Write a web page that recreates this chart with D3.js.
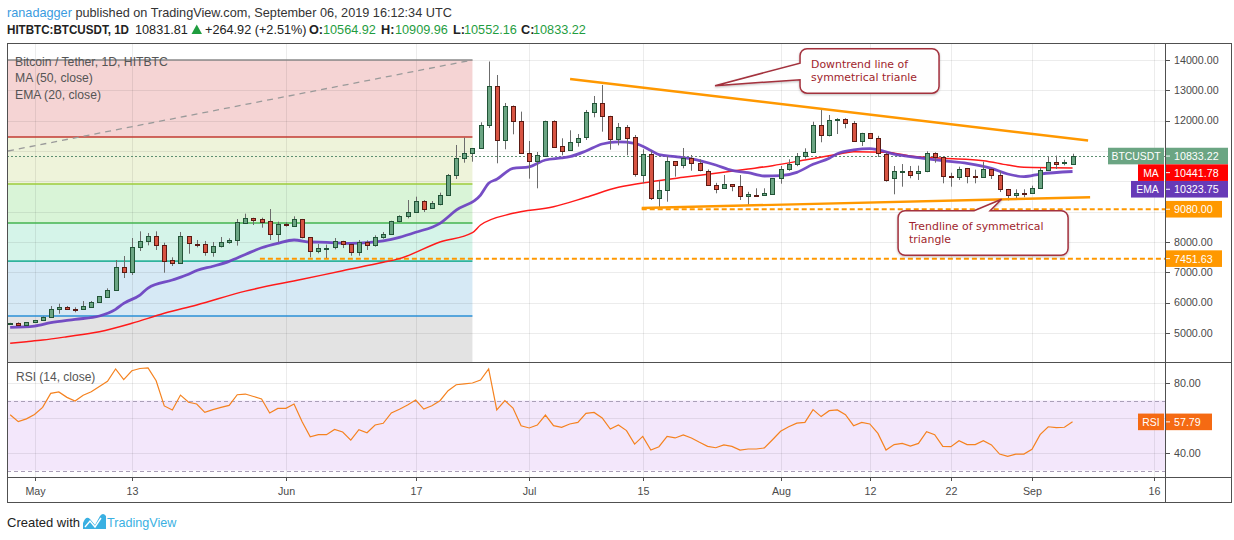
<!DOCTYPE html>
<html><head><meta charset="utf-8">
<script src="https://cdn.jsdelivr.net/npm/d3@7"></script>
<style>
body{margin:0;background:#fff}
svg{display:block;font-family:"Liberation Sans",Arial,sans-serif}
</style>
</head><body>
<svg id="c" width="1234" height="540"></svg>
<script>
// ---------------- DATA ----------------
const firstDate = "2019-04-28";
const open = [5310,5320,5253,5352,5418,5517,5780,5856,5795,5780,5868,6012,6200,6407,7165,6989,7824,8010,8187,7890,7406,7297,8187,7944,
7924,7660,7846,7990,8044,8637,8791,8758,8692,8274,8593,8538,8747,8154,7714,7770,7813,8022,7934,7660,7999,7890,8155,
8253,8682,8846,8978,9351,9098,9263,9527,10186,10758,10923,11078,11836,13133,11353,12473,11979,10923,10660,10846,11989,
11155,11023,11287,11451,12276,12572,12144,11372,11781,11451,10220,10901,9450,9703,10660,10517,10758,10594,10350,9889,9770,9902,9836,
9494,9560,9530,9593,10100,10396,10560,10835,10957,11847,11517,12012,12045,11913,11307,11583,11418,10911,10100,10320,10350,
10264,10320,10923,10792,10166,10132,10429,10166,10153,10406,10208,9737,9540,9616,9606,9770,10350,10650,10594,10564.92];
const high = [5335,5352,5360,5430,5545,5890,5966,5890,5847,6054,6055,6220,6473,7406,7538,8131,8352,8297,8352,7977,7495,8330,8190,8066,
8033,8000,8165,8121,8758,8934,8800,8802,9087,8670,8649,8846,8760,8160,7934,7913,8131,8040,7940,8066,8055,8220,8330,
8700,8880,9384,9494,9380,9351,9626,10242,11198,11440,11100,11946,13950,13505,12583,12500,12298,11330,10967,12000,12010,
11418,11682,11560,12352,12813,13176,12160,11923,11857,11527,11056,11010,10021,10835,10670,11099,10868,10726,10390,9950,10208,9910,10208,
9655,9770,9770,10110,10506,10726,10934,11088,11966,12352,12187,12080,12080,11990,11600,11590,11500,10950,10505,10570,10505,
10517,10990,10957,10800,10284,10483,10440,10385,10647,10420,10340,9750,9737,9737,9857,10450,10813,10846,10713,10909.96];
const low = [5295,5240,5245,5340,5410,5510,5636,5760,5682,5775,5850,6005,6190,6400,6813,6912,7703,7890,7736,6988,7209,7290,7614,7824,
7548,7515,7820,7944,7880,8620,8560,8472,8066,8000,8505,8520,8120,7495,7627,7472,7758,7800,7548,7548,7736,7846,8110,
8240,8650,8780,8970,8989,9090,9209,9520,10077,10614,10647,11070,11758,10594,11056,11550,10900,10087,9770,10840,11130,
10858,11010,11142,11362,12110,11637,11043,11187,10858,10153,9935,9384,9130,9328,10153,10429,10350,10330,9880,9605,9760,9673,9384,
9190,9530,9520,9580,9922,10350,10500,10747,10950,11287,11480,11560,11748,11300,11165,11410,10802,9988,9572,9823,10100,
10044,10300,10614,9935,9823,10044,9935,9935,10140,10077,9648,9374,9440,9474,9590,9760,10340,10406,10527,10552.16];
const close = [5320,5253,5352,5418,5530,5790,5856,5780,5785,5890,6022,6209,6417,7165,6989,7824,8022,8187,7878,7350,7297,8187,7956,7930,
7660,7868,7990,8055,8648,8791,8725,8670,8274,8593,8550,8758,8140,7703,7802,7813,8022,7924,7660,7990,7890,8165,8264,
8682,8857,8978,9351,9098,9274,9549,10198,10758,10923,11089,11847,13133,11353,12473,11979,10923,10660,10858,11989,11142,
10990,11287,11419,12276,12572,12144,11372,11781,11418,10220,10901,9450,9714,10660,10517,10758,10594,10350,9889,9770,9902,9836,9494,
9573,9530,9606,10110,10396,10571,10835,10957,11847,11517,12012,12045,11913,11307,11583,11418,10911,10066,10330,10350,10230,
10330,10923,10792,10153,10132,10406,10153,10153,10406,10198,9737,9540,9616,9606,9780,10373,10627,10594,10627,10833.22];
const rsi = [61.9,57.9,59.5,62.0,66.1,74.1,74.9,71.8,69.7,73.0,75.0,78.0,81.0,88.0,81.9,87.0,88.3,88.6,81.3,66.9,64.6,73.1,69.0,68.0,
63.2,64.8,66.1,67.2,73.3,73.7,72.3,70.9,62.9,65.5,65.5,68.0,57.9,49.3,50.5,50.5,53.5,52.0,47.4,53.3,51.6,56.0,57.0,
62.9,65.0,67.4,70.3,65.1,67.0,69.9,75.6,79.0,79.5,80.0,81.7,88.0,64.6,69.9,65.7,55.6,54.3,56.0,61.7,55.6,
54.7,56.6,57.5,62.7,63.2,60.0,53.7,56.0,52.8,45.1,49.5,41.7,43.6,49.5,48.6,50.3,48.6,46.1,43.8,43.0,44.6,43.8,41.7,
42.3,42.3,42.9,47.6,52.4,55.0,57.1,57.5,64.8,60.8,64.2,64.6,61.9,55.6,57.5,56.6,51.2,41.7,44.8,45.5,44.0,
45.5,52.2,50.5,43.8,43.6,47.0,44.8,44.8,47.0,44.6,39.4,38.1,39.4,39.4,42.1,50.5,55.0,54.5,54.7,57.79];
const maPoints = [["2019-04-28",4660],["2019-04-30",4713],["2019-05-02",4768],["2019-05-05",4877],["2019-05-09",5042],
["2019-05-13",5319],["2019-05-17",5648],["2019-05-21",5923],["2019-05-27",6380],["2019-06-03",6769],["2019-06-08",7053],
["2019-06-13",7330],["2019-06-15",7451],["2019-06-20",8000],["2019-06-24",8306],["2019-06-25",8560],["2019-06-29",8945],
["2019-07-04",9160],["2019-07-08",9473],["2019-07-12",9803],["2019-07-16",9988],["2019-07-20",10132],["2019-07-24",10264],
["2019-07-28",10406],["2019-07-31",10517],["2019-08-04",10703],["2019-08-08",10890],["2019-08-10",10977],["2019-08-14",10957],
["2019-08-17",10835],["2019-08-21",10758],["2019-08-26",10680],["2019-08-29",10538],["2019-08-31",10462],["2019-09-06",10441.78]];
const emaPoints = [["2019-04-28",5187],["2019-05-01",5230],["2019-05-03",5340],["2019-05-06",5450],["2019-05-09",5560],
["2019-05-11",5780],["2019-05-12",5978],["2019-05-14",6250],["2019-05-15",6480],["2019-05-18",6747],["2019-05-20",6934],
["2019-05-21",7060],["2019-05-23",7200],["2019-05-25",7362],["2019-05-27",7590],["2019-05-29",7810],["2019-05-31",7956],
["2019-06-02",8066],["2019-06-04",8000],["2019-06-06",7990],["2019-06-09",7956],["2019-06-11",7977],["2019-06-13",8040],
["2019-06-15",8155],["2019-06-17",8320],["2019-06-20",8615],["2019-06-22",9050],["2019-06-25",9549],["2019-06-26",9935],
["2019-06-27",10066],["2019-06-29",10429],["2019-07-01",10480],["2019-07-03",10703],["2019-07-05",10770],["2019-07-06",10813],
["2019-07-08",11000],["2019-07-10",11230],["2019-07-12",11300],["2019-07-14",11253],["2019-07-16",11020],["2019-07-17",10879],
["2019-07-19",10813],["2019-07-21",10740],["2019-07-24",10538],["2019-07-26",10360],["2019-07-28",10284],["2019-07-30",10175],
["2019-08-01",10186],["2019-08-03",10297],["2019-08-05",10560],["2019-08-07",10760],["2019-08-08",10911],["2019-08-10",11033],
["2019-08-12",11080],["2019-08-13",11040],["2019-08-15",10900],["2019-08-18",10780],["2019-08-21",10680],["2019-08-24",10594],
["2019-08-27",10429],["2019-08-29",10241],["2019-08-31",10153],["2019-09-02",10241],["2019-09-06",10323.75]];
const priceTicks = [5000,6000,7000,8000,9000,10000,11000,12000,13000,14000];
const rsiTicks = [40,60,80];
const rsiBands = [70,30];
const timeTicks = ["2019-05-01","2019-05-13","2019-06-01","2019-06-17","2019-07-01","2019-07-15","2019-08-01","2019-08-12","2019-08-22","2019-09-01","2019-09-16"];
const timeTickLabels = ["May","13","Jun","17","Jul","15","Aug","12","22","Sep","16"];
const fibLevels = [14000,11460,9910,8625,7370,5560];
const fibEnd = "2019-06-24T00:00:00Z";
const fibDiag = [["2019-04-27T17:34:00Z",11000],["2019-06-24T00:00:00Z",14000]];
const hLines = [[9080.00,"2019-07-14T21:00:00Z"],[7451.63,"2019-05-28T19:00:00Z"]];
const trendDown = [["2019-07-06T01:00:00Z",13374],["2019-09-07T22:00:00Z",11346]];
const trendUp = [["2019-07-14T21:00:00Z",9121],["2019-09-08T04:00:00Z",9474]];
const lastPrice = 10833.22, maLast = 10441.78, emaLast = 10323.75, rsiLast = 57.79;
const notes = [
  {tip:["2019-07-23T22:00:00Z",13153], lines:["Downtrend line of","symmetrical trianle"]},
  {tip:["2019-08-28T06:00:00Z",9408], lines:["Trendline of symmetrical","triangle"]}
];

// ---------------- LAYOUT ----------------
const PL=7, PR=1165, AR=1232, MT=43, MB=362, RT=362, RB=477, TB=503;
const svg = d3.select("#c");
const P = s => new Date(s.length===10 ? s+"T00:00:00Z" : s);
const x = d3.scaleUtc().domain([Date.UTC(2019,3,27,17,34), Date.UTC(2019,8,17,9,36)]).range([8,PR]);
const y = d3.scaleLinear().domain([4044,14560]).range([MB,MT]);
const yr = d3.scaleLinear().domain([26.29,91.43]).range([RB,RT+1]);

const defs = svg.append("defs");
defs.append("clipPath").attr("id","cm").append("rect").attr("x",PL).attr("y",MT).attr("width",PR-PL).attr("height",MB-MT);
defs.append("clipPath").attr("id","cr").append("rect").attr("x",PL).attr("y",RT).attr("width",PR-PL).attr("height",RB-RT);
const flt = defs.append("filter").attr("id","sh").attr("x","-10%").attr("y","-20%").attr("width","130%").attr("height","150%");
flt.append("feDropShadow").attr("dx",0).attr("dy",1).attr("stdDeviation",1.2).attr("flood-color","#000").attr("flood-opacity",0.25);

svg.append("rect").attr("width",1234).attr("height",540).attr("fill","#fff");

// ---------------- MAIN PANE ----------------
const main = svg.append("g").attr("clip-path","url(#cm)");
const fibFill = ["#f5d4d4","#eef3da","#d9f4d7","#d5f4e9","#d6e9f5","#e3e3e3"];
const fibLine = ["#8a8a8a","#c23b32","#9ccc3a","#43b54f","#2fb39c","#2a8fd6"];
const fx0 = x.range()[0], fx1 = x(P(fibEnd));
fibLevels.forEach((lv,i)=>{
  const yTop = y(lv), yBot = i<fibLevels.length-1 ? y(fibLevels[i+1]) : MB;
  main.append("rect").attr("x",fx0-2).attr("y",yTop).attr("width",fx1-fx0+2).attr("height",yBot-yTop).attr("fill",fibFill[i]);
});
const gridC = "rgba(0,0,0,0.075)";
main.selectAll("line.hg").data(priceTicks).join("line").attr("class","hg")
  .attr("x1",PL).attr("x2",PR).attr("y1",d=>Math.round(y(d))+0.5).attr("y2",d=>Math.round(y(d))+0.5)
  .attr("stroke",gridC);
main.selectAll("line.vg").data(timeTicks).join("line").attr("class","vg")
  .attr("x1",d=>Math.round(x(P(d)))+0.5).attr("x2",d=>Math.round(x(P(d)))+0.5).attr("y1",MT).attr("y2",MB)
  .attr("stroke",gridC);
fibLevels.forEach((lv,i)=>{
  main.append("line").attr("x1",fx0-2).attr("x2",fx1).attr("y1",y(lv)).attr("y2",y(lv))
    .attr("stroke",fibLine[i]).attr("stroke-width",1.6);
});
main.append("line").attr("x1",x(P(fibDiag[0][0]))).attr("y1",y(fibDiag[0][1]))
  .attr("x2",x(P(fibDiag[1][0]))).attr("y2",y(fibDiag[1][1]))
  .attr("stroke","#9a9a9a").attr("stroke-width",1.3).attr("stroke-dasharray","6,5");
main.append("line").attr("x1",PL).attr("x2",PR).attr("y1",Math.round(y(lastPrice))+0.5).attr("y2",Math.round(y(lastPrice))+0.5)
  .attr("stroke","#5d8f72").attr("stroke-width",1).attr("stroke-dasharray","2,2");
hLines.forEach(([v,t])=>{
  main.append("line").attr("x1",x(P(t))).attr("x2",PR).attr("y1",y(v)).attr("y2",y(v))
    .attr("stroke","#ff9800").attr("stroke-width",2).attr("stroke-dasharray","5,3");
});
const ln = d3.line().x(d=>x(P(d[0]))).y(d=>y(d[1])).curve(d3.curveMonotoneX);
main.append("path").attr("d",ln(maPoints)).attr("fill","none").attr("stroke","#ff1a1a").attr("stroke-width",1.5);
main.append("path").attr("d",ln(emaPoints)).attr("fill","none").attr("stroke","#6a3fc0").attr("stroke-width",2.8).attr("stroke-opacity",0.92);
const days = open.map((_,i)=>d3.utcDay.offset(P(firstDate),i));
const cd = days.map((d,i)=>({d,o:open[i],h:high[i],l:low[i],c:close[i]}));
const cx = d=>Math.round(x(d.d));
main.selectAll("line.wk").data(cd).join("line").attr("class","wk")
  .attr("x1",d=>cx(d)+0.5).attr("x2",d=>cx(d)+0.5).attr("y1",d=>y(d.h)).attr("y2",d=>y(d.l))
  .attr("stroke","#6c6c6c").attr("stroke-width",1);
main.selectAll("rect.bd").data(cd).join("rect").attr("class","bd")
  .attr("x",d=>cx(d)-1.5).attr("width",4)
  .attr("y",d=>Math.round(y(Math.max(d.o,d.c)))+0.5)
  .attr("height",d=>Math.max(1,Math.round(Math.abs(y(d.o)-y(d.c)))))
  .attr("fill",d=>d.c>=d.o?"#6ba583":"#d75442")
  .attr("stroke",d=>d.c>=d.o?"#225437":"#5b1a13").attr("stroke-width",1);
[trendDown,trendUp].forEach(tl=>{
  main.append("line").attr("x1",x(P(tl[0][0]))).attr("y1",y(tl[0][1])).attr("x2",x(P(tl[1][0]))).attr("y2",y(tl[1][1]))
    .attr("stroke","#ff9800").attr("stroke-width",2.4);
});
const leg = svg.append("g").attr("font-size",12.2).attr("fill","#555");
leg.append("text").attr("x",15).attr("y",65.5).text("Bitcoin / Tether, 1D, HITBTC");
leg.append("text").attr("x",15).attr("y",82).text("MA (50, close)");
leg.append("text").attr("x",15).attr("y",98.5).text("EMA (20, close)");

// callouts
const noteC = "#a3303c";
function callout(n,i){
  const tx = x(P(n.tip[0])), ty = y(n.tip[1]);
  let bx,by,bw,bh,r=7,path;
  if(i===0){
    bx = tx+85; by = ty-37; bw = 139; bh = 44.5;
    const a1 = by+14.5, a2 = by+31;
    path = `M${bx+r},${by} H${bx+bw-r} A${r},${r} 0 0 1 ${bx+bw},${by+r} V${by+bh-r} A${r},${r} 0 0 1 ${bx+bw-r},${by+bh}
      H${bx+r} A${r},${r} 0 0 1 ${bx},${by+bh-r} V${a2} L${tx},${ty} L${bx},${a1} V${by+r} A${r},${r} 0 0 1 ${bx+r},${by} Z`;
  } else {
    bx = tx-103.5; by = ty+11.5; bw = 170; bh = 44.5;
    const a1 = tx-27.5, a2 = tx-11.5;
    path = `M${bx+r},${by} H${a1} L${tx},${ty} L${a2},${by} H${bx+bw-r} A${r},${r} 0 0 1 ${bx+bw},${by+r} V${by+bh-r}
      A${r},${r} 0 0 1 ${bx+bw-r},${by+bh} H${bx+r} A${r},${r} 0 0 1 ${bx},${by+bh-r} V${by+r} A${r},${r} 0 0 1 ${bx+r},${by} Z`;
  }
  svg.append("path").attr("d",path).attr("fill","rgba(255,255,255,0.96)").attr("stroke",noteC).attr("stroke-width",1.5)
    .attr("filter","url(#sh)");
  n.lines.forEach((s,k)=>svg.append("text").attr("font-family","DejaVu Sans, Verdana, sans-serif")
    .attr("font-size",10.9).attr("fill","#a01f2d").attr("x",bx+11).attr("y",by+19.3+k*12.8).text(s));
}
notes.forEach(callout);

// ---------------- RSI PANE ----------------
const rp = svg.append("g").attr("clip-path","url(#cr)");
rp.append("rect").attr("x",PL).attr("width",PR-PL).attr("y",yr(rsiBands[0])).attr("height",yr(rsiBands[1])-yr(rsiBands[0])).attr("fill","#f3e7fb");
rp.selectAll("line.rg").data(rsiTicks).join("line").attr("class","rg")
  .attr("x1",PL).attr("x2",PR).attr("y1",d=>Math.round(yr(d))+0.5).attr("y2",d=>Math.round(yr(d))+0.5).attr("stroke",gridC);
rp.selectAll("line.rvg").data(timeTicks).join("line").attr("class","rvg")
  .attr("x1",d=>Math.round(x(P(d)))+0.5).attr("x2",d=>Math.round(x(P(d)))+0.5).attr("y1",RT).attr("y2",RB).attr("stroke",gridC);
rp.selectAll("line.rb").data(rsiBands).join("line").attr("class","rb")
  .attr("x1",PL).attr("x2",PR).attr("y1",d=>Math.round(yr(d))+0.5).attr("y2",d=>Math.round(yr(d))+0.5)
  .attr("stroke","#aa9fb8").attr("stroke-dasharray","4,3");
rp.append("path").attr("d",d3.line().x((d,i)=>x(days[i])).y(d=>yr(d))(rsi))
  .attr("fill","none").attr("stroke","#f5821f").attr("stroke-width",1.2);
svg.append("text").attr("x",16).attr("y",380.5).attr("font-size",12).attr("fill","#555").text("RSI (14, close)");

// ---------------- FRAME & AXES ----------------
const fc = "#505050";
const fr = svg.append("g").attr("stroke",fc).attr("stroke-width",1).attr("fill","none");
fr.append("rect").attr("x",PL+0.5).attr("y",MT+0.5).attr("width",AR-PL-1).attr("height",TB-MT-1);
fr.append("line").attr("x1",PL).attr("x2",AR).attr("y1",MB+0.5).attr("y2",MB+0.5);
fr.append("line").attr("x1",PL).attr("x2",AR).attr("y1",RB+0.5).attr("y2",RB+0.5);
fr.append("line").attr("x1",PR+0.5).attr("x2",PR+0.5).attr("y1",MT).attr("y2",TB);

const BH = 16.6;
const badges = [
  {v:lastPrice, txt:"10833.22", lab:"BTCUSDT", col:"#6ba583", lw:56},
  {v:maLast, txt:"10441.78", lab:"MA", col:"#ff0000", lw:26},
  {v:emaLast, txt:"10323.75", lab:"EMA", col:"#673ab7", lw:33},
  {v:hLines[0][0], txt:hLines[0][0].toFixed(2), lab:null, col:"#ff9800"},
  {v:hLines[1][0], txt:hLines[1][0].toFixed(2), lab:null, col:"#ff9800"}
];
let prev = -1e9;
badges.forEach(b=>{ b.cy = Math.max(y(b.v), prev+BH); prev = b.cy; });
const ax = svg.append("g").attr("font-size",10.7).attr("fill","#4a4a4a");
priceTicks.filter(t=>!badges.some(b=>Math.abs(b.cy-y(t))<10)).forEach(t=>{
  ax.append("line").attr("x1",PR).attr("x2",PR+5).attr("y1",Math.round(y(t))+0.5).attr("y2",Math.round(y(t))+0.5).attr("stroke",fc);
  ax.append("text").attr("x",PR+9).attr("y",y(t)+3.8).text(t.toFixed(2));
});
rsiTicks.filter(t=>t!==60).forEach(t=>{
  ax.append("line").attr("x1",PR).attr("x2",PR+5).attr("y1",Math.round(yr(t))+0.5).attr("y2",Math.round(yr(t))+0.5).attr("stroke",fc);
  ax.append("text").attr("x",PR+9).attr("y",yr(t)+3.8).text(t.toFixed(2));
});
function badge(cy,txt,col,lab,lw,vw){
  svg.append("rect").attr("x",PR+1).attr("y",cy-BH/2).attr("width",vw).attr("height",BH).attr("fill",col);
  svg.append("line").attr("x1",PR+1).attr("x2",PR+5).attr("y1",cy).attr("y2",cy).attr("stroke","#fff");
  svg.append("text").attr("x",PR+9).attr("y",cy+3.9).attr("font-size",10.7).attr("fill","#fff").text(txt);
  if(lab){
    svg.append("rect").attr("x",PR-1-lw).attr("y",cy-BH/2).attr("width",lw).attr("height",BH).attr("fill",col);
    svg.append("text").attr("x",PR-1-lw/2).attr("y",cy+3.9).attr("text-anchor","middle").attr("font-size",10.4)
      .attr("fill","#fff").text(lab);
  }
}
badges.forEach(b=>badge(b.cy,b.txt,b.col,b.lab,b.lw, b.lab?62:56));
badge(yr(rsiLast), rsiLast.toFixed(2), "#f56a13", "RSI", 26, 46);

const ta = svg.append("g").attr("font-size",10.7).attr("fill","#4a4a4a").attr("text-anchor","middle");
timeTicks.forEach((t,i)=>{
  const xx = Math.round(x(P(t)))+0.5;
  ta.append("line").attr("x1",xx).attr("x2",xx).attr("y1",RB).attr("y2",RB+4).attr("stroke",fc);
  ta.append("text").attr("x",xx).attr("y",495).text(timeTickLabels[i]);
});

// ---------------- HEADER ----------------
const h1 = svg.append("text").attr("x",7).attr("y",17).attr("font-size",12.7).attr("fill","#333");
h1.append("tspan").attr("fill","#3a9be0").text("ranadagger");
h1.append("tspan").text(" published on TradingView.com, September 06, 2019 16:12:34 UTC");
const G = "#1f9d3f";
const h2 = svg.append("g").attr("font-size",12.7).attr("fill","#222");
h2.append("text").attr("x",7).attr("y",33.5).attr("font-weight","bold").attr("textLength",122).attr("lengthAdjust","spacingAndGlyphs").text("HITBTC:BTCUSDT, 1D");
h2.append("text").attr("x",135).attr("y",33.5).text("10831.81");
h2.append("path").attr("d","M191.5,34 L202,34 L196.75,24.5 Z").attr("fill",G);
h2.append("text").attr("x",205).attr("y",33.5).text("+264.92 (+2.51%)");
[["O:",309,"10564.92",323],["H:",381,"10909.96",395],["L:",453,"10552.16",464],["C:",521,"10833.22",533]].forEach(s=>{
  h2.append("text").attr("x",s[1]).attr("y",33.5).attr("font-weight","bold").text(s[0]);
  h2.append("text").attr("x",s[3]).attr("y",33.5).attr("fill",G).text(s[2]);
});

svg.append("text").attr("x",7).attr("y",527).attr("font-size",13).attr("fill","#222").text("Created with");
svg.append("path").attr("d","M83,529 L83,523 Q86,515 90,519 L95,525 L100,516 Q103,512 106,516 L106,529 Z").attr("fill","#3ab0e2");
svg.append("path").attr("d","M85,527 L90,521 L95,527 L101,518").attr("fill","none").attr("stroke","#fff").attr("stroke-width",1.4);
svg.append("text").attr("x",107).attr("y",527).attr("font-size",12.6).attr("fill","#3ab0e2").text("TradingView");
</script>
</body></html>
